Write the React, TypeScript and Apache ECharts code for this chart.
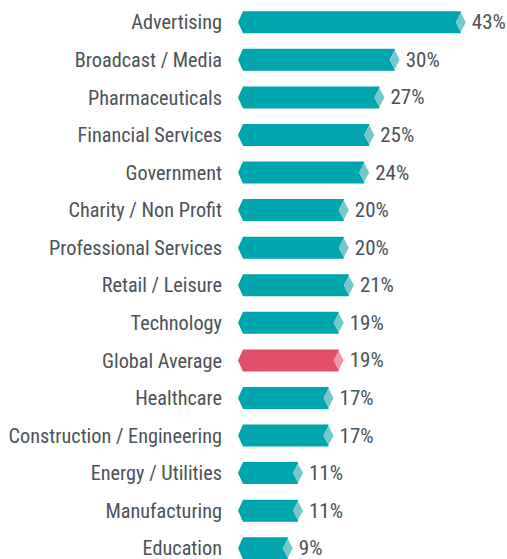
import React, { useEffect, useRef } from "react";
import * as echarts from "echarts";

const categories = [
  "Advertising",
  "Broadcast / Media",
  "Pharmaceuticals",
  "Financial Services",
  "Government",
  "Charity / Non Profit",
  "Professional Services",
  "Retail / Leisure",
  "Technology",
  "Global Average",
  "Healthcare",
  "Construction / Engineering",
  "Energy / Utilities",
  "Manufacturing",
  "Education",
];
const values = [43, 30, 27, 25, 24, 20, 20, 21, 19, 19, 17, 17, 11, 11, 9];
const highlight = "Global Average";

const FONT = "'Liberation Sans Narrow', 'Roboto Condensed', 'DejaVu Sans Condensed', sans-serif";
const TEXT = "#4b5259";
const TEAL = "#00a6ad";
const TEAL_LIGHT = "#74c8cc";
const RED = "#e24e68";
const RED_LIGHT = "#ee98a4";

export default function App() {
  const ref = useRef<HTMLDivElement>(null);
  useEffect(() => {
    if (!ref.current) return;
    const chart = echarts.init(ref.current, undefined, { renderer: "svg" });
    const data = values.map((v, i) => [v, i]);
    chart.setOption({
      animation: false,
      grid: { left: 242, right: 10.5, top: 3.5, height: 563.5, containLabel: false },
      xAxis: {
        type: "value",
        min: 0,
        max: 50,
        show: false,
      },
      yAxis: {
        type: "category",
        data: categories,
        inverse: true,
        axisLine: { show: false },
        axisTick: { show: false },
        splitLine: { show: false },
        axisLabel: { show: false },
      },
      series: [
        {
          type: "custom",
          data,
          encode: { x: 0, y: 1 },
          renderItem: (params: any, api: any) => {
            const v = api.value(0);
            const idx = api.value(1);
            const start = api.coord([0, idx]);
            const end = api.coord([v, idx]);
            const h = 22;
            const dh = 19;
            const y = start[1];
            const x0 = start[0];
            const xe = end[0];
            const dw = 5;
            const isHl = categories[idx] === highlight;
            const dark = isHl ? RED : TEAL;
            const light = isHl ? RED_LIGHT : TEAL_LIGHT;
            return {
              type: "group",
              children: [
                {
                  type: "polygon",
                  shape: {
                    points: [
                      [x0 - 4, y],
                      [x0 + 1, y - h / 2],
                      [xe, y - h / 2],
                      [xe, y - dh / 2],
                      [xe - dw, y],
                      [xe, y + dh / 2],
                      [xe, y + h / 2],
                      [x0 + 1, y + h / 2],
                    ],
                  },
                  style: { fill: dark },
                },
                {
                  type: "polygon",
                  shape: {
                    points: [
                      [xe - dw, y],
                      [xe, y - dh / 2],
                      [xe + dw, y],
                      [xe, y + dh / 2],
                    ],
                  },
                  style: { fill: light },
                },
                {
                  type: "text",
                  x: xe + 11,
                  y: y,
                  style: {
                    x: 0,
                    y: 0,
                    text: v + "%",
                    fill: TEXT,
                    font: `21px ${FONT}`,
                    verticalAlign: "middle",
                    align: "left",
                  },
                },
                {
                  type: "text",
                  x: x0 - 20,
                  y: y,
                  scaleX: 0.965,
                  style: {
                    x: 0,
                    y: 0,
                    text: categories[idx],
                    fill: TEXT,
                    font: `21px ${FONT}`,
                    verticalAlign: "middle",
                    align: "right",
                  },
                },
              ],
            };
          },
        },
      ],
    });
    return () => chart.dispose();
  }, []);
  return (
    <div style={{ width: 507, height: 559, position: "absolute", left: 0, top: 0, overflow: "hidden" }}>
      <div ref={ref} style={{ width: 507, height: 580 }} />
    </div>
  );
}
